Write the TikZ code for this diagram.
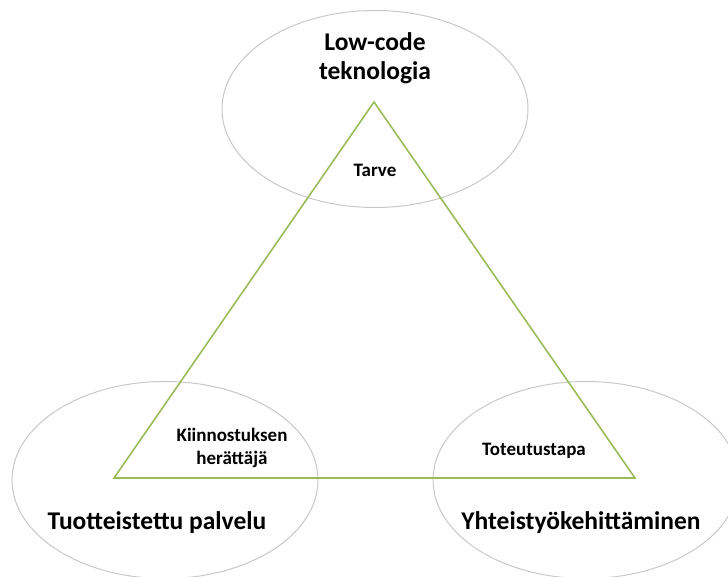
\documentclass[tikz,border=0pt]{standalone}
\usepackage{fontspec}
\setmainfont{Carlito}
\usetikzlibrary{shapes.geometric}
\definecolor{ringgray}{HTML}{C8C8C8}
\definecolor{leafgreen}{HTML}{9BBB59}
\begin{document}
\begin{tikzpicture}[x=1pt,y=-1pt,
  ring/.style={draw=ringgray,line width=1pt,ellipse,minimum width=306pt,minimum height=197pt,inner sep=0pt},
  biglabel/.style={font=\bfseries\fontsize{25.5}{29}\selectfont,align=center,text=black},
  smalllabel/.style={font=\bfseries\fontsize{19}{23}\selectfont,align=center,text=black}]
\useasboundingbox (0,0) rectangle (728,577);
% three overlapping areas
\node[ring] (top) at (375,109) {};
\node[ring] (left) at (165,480) {};
\node[ring] (right) at (586,480) {};
% triangle corners
\coordinate (apex) at (374,102);
\coordinate (bl) at (114,478);
\coordinate (br) at (635,478);
\draw[leafgreen,line width=1.6pt,line join=miter] (apex) -- (bl) -- (br) -- cycle;
% labels
\node[biglabel] (lowcode) at (375,58) {Low-code\\teknologia};
\node[biglabel] (tuote) at (157,523) {Tuotteistettu palvelu};
\node[biglabel] (yhteis) at (581,523) {Yhteistyökehittäminen};
\node[smalllabel] (tarve) at (375,170) {Tarve};
\node[smalllabel] (kiinno) at (232,448) {Kiinnostuksen\\herättäjä};
\node[smalllabel] (toteutus) at (534,451) {Toteutustapa};
\end{tikzpicture}
\end{document}
